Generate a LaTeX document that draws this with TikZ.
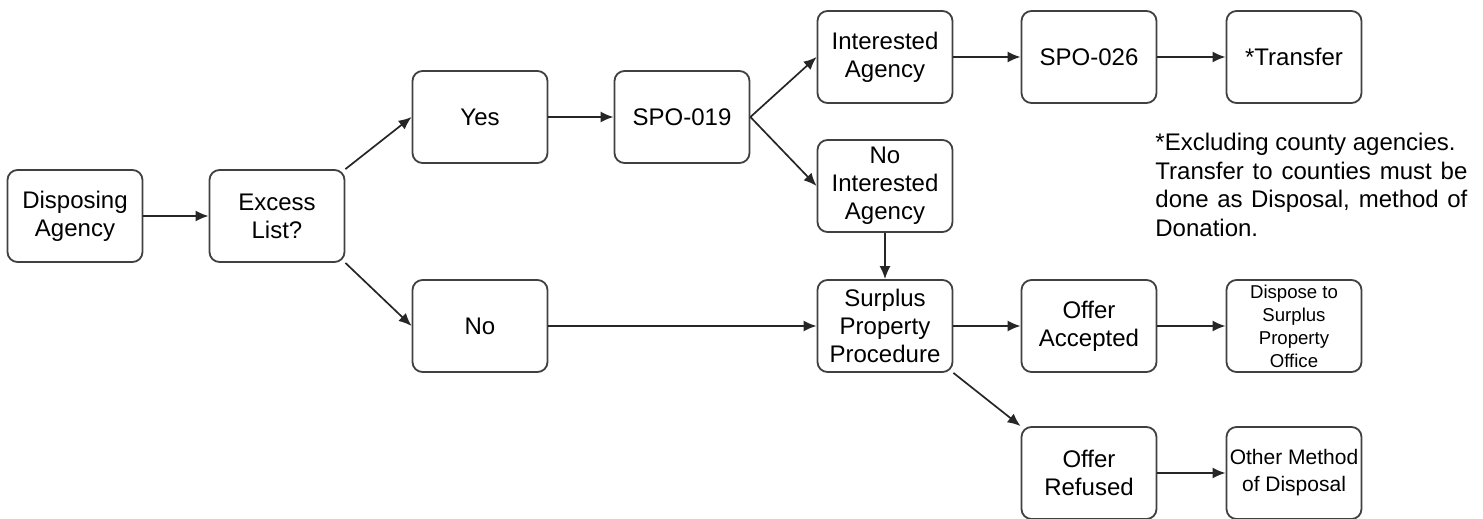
\documentclass[tikz,border=0pt]{standalone}
\usepackage{fontspec}
\setmainfont{Liberation Sans}
\usetikzlibrary{positioning}
\usetikzlibrary{arrows.meta}

\begin{document}
\begin{tikzpicture}[x=0.5pt, y=-0.5pt,
  stepbox/.style={draw=black!75, line width=0.9pt, rounded corners=5pt,
    minimum width=67.5pt, minimum height=46pt, inner sep=1pt, align=center,
    font=\fontsize{12}{14}\selectfont},
  link/.style={draw=black!85, line width=0.85pt, -{Latex[length=6.5pt,width=5.5pt]}}]

  \useasboundingbox (0,0) rectangle (1483,519);

	% column centres
	\def\cA{75};
	\def\cB{277};
	\def\cC{480};
	\def\cD{682};
	\def\cE{885};
	\def\cF{1089};
	\def\cG{1294};

	% boxes
	\node[stepbox] (disposing) at (\cA,216) {Disposing\\Agency};
	\node[stepbox] (excess) at (\cB,216) {Excess\\List?};
	\node[stepbox] (yes) at (\cC,117) {Yes};
	\node[stepbox] (no) at (\cC,326) {No};
	\node[stepbox] (spo19) at (\cD,117) {SPO-019};
	\node[stepbox] (interested) at (\cE,57) {Interested\\Agency};
	\node[stepbox] (nointerested) at (\cE,186) {No\\Interested\\Agency};
	\node[stepbox] (spo26) at (\cF,57) {SPO-026};
	\node[stepbox] (transfer) at (\cG,57) {*Transfer};
	\node[stepbox] (surplus) at (\cE,326) {Surplus\\Property\\Procedure};
	\node[stepbox] (accepted) at (\cF,326) {Offer\\Accepted};
	\node[stepbox, font=\fontsize{9.3}{11.5}\selectfont] (office) at (\cG,326) {Dispose to\\Surplus\\Property\\Office};
	\node[stepbox] (refused) at (\cF,473) {Offer\\Refused};
	\node[stepbox, font=\fontsize{10.5}{13.5}\selectfont] (othermethod) at (\cG,473) {Other Method\\of Disposal};

	% footnote
	\node[anchor=north west, inner sep=0pt, text width=156pt, align=justify,
	  font=\fontsize{12}{14.25}\selectfont] (note) at (1155,133)
	  {*Excluding county agencies.\par Transfer to counties must be done as Disposal, method of Donation.};

	% arrows
	\draw[link] (disposing) -- (excess);
	\draw[link] (excess.north east) -- (yes.west);
	\draw[link] (excess.south east) -- (no.west);
	\draw[link] (yes) -- (spo19);
	\draw[link] (spo19.east) -- (interested.west);
	\draw[link] (spo19.east) -- (nointerested.west);
	\draw[link] (interested) -- (spo26);
	\draw[link] (spo26) -- (transfer);
	\draw[link] (nointerested) -- (surplus);
	\draw[link] (no) -- (surplus);
	\draw[link] (surplus) -- (accepted);
	\draw[link] (accepted) -- (office);
	\draw[link] (surplus.south east) -- (refused.north west);
	\draw[link] (refused) -- (othermethod);

\end{tikzpicture}
\end{document}
